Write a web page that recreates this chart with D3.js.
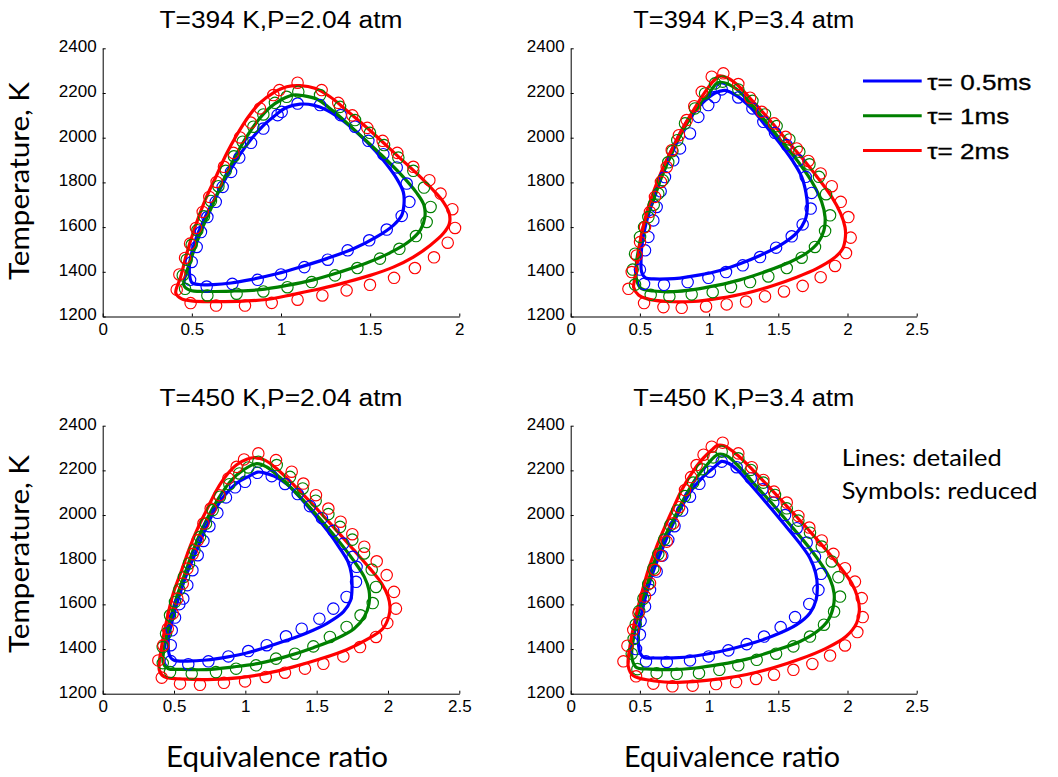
<!DOCTYPE html>
<html>
<head>
<meta charset="utf-8">
<script src="https://cdn.jsdelivr.net/npm/d3@7"></script>
<style>
  body { margin: 0; background: #fff; }
</style>
</head>
<body>
<script>
// ---- data (equivalence ratio, temperature K) ----
const titles = ["T=394 K,P=2.04 atm", "T=394 K,P=3.4 atm", "T=450 K,P=2.04 atm", "T=450 K,P=3.4 atm"];
const xMaxes = [2, 2.5, 2.5, 2.5];
const xTicksShort = [0, 0.5, 1, 1.5, 2];
const xTicksLong = [0, 0.5, 1, 1.5, 2, 2.5];
const yTicks = [1200, 1400, 1600, 1800, 2000, 2200, 2400];
const tauLabels = ["\u03c4= 0.5ms", "\u03c4= 1ms", "\u03c4= 2ms"];

// panel 1: T=394 K, P=2.04 atm
const p1BlueLine = [[0.5,1352],[0.54,1343],[0.62,1343],[0.72,1350],[0.83,1365],[0.976,1391],[1.107,1421],[1.256,1459],[1.406,1503],[1.536,1556],[1.63,1608],[1.677,1653],[1.69,1705],[1.686,1757],[1.649,1817],[1.574,1899],[1.48,1982],[1.368,2064],[1.256,2124],[1.181,2146],[1.107,2150],[1.03,2135],[0.96,2095],[0.895,2050],[0.8,1959],[0.715,1855],[0.645,1750],[0.575,1645],[0.52,1541],[0.49,1451],[0.487,1390]];
const p1GreenLine = [[0.455,1340],[0.49,1317],[0.583,1312],[0.733,1314],[0.882,1320],[1.032,1339],[1.181,1364],[1.331,1399],[1.48,1439],[1.611,1485],[1.714,1533],[1.783,1589],[1.807,1645],[1.802,1698],[1.761,1753],[1.667,1840],[1.555,1929],[1.424,2026],[1.293,2119],[1.2,2173],[1.125,2188],[1.069,2191],[1.004,2171],[0.938,2135],[0.873,2079],[0.807,2004],[0.742,1914],[0.677,1810],[0.611,1690],[0.546,1571],[0.499,1466],[0.462,1376]];
const p1RedLine = [[0.41,1305],[0.443,1279],[0.508,1269],[0.639,1267],[0.789,1269],[0.92,1276],[1.069,1299],[1.219,1324],[1.368,1354],[1.5,1384],[1.63,1421],[1.742,1466],[1.836,1518],[1.91,1571],[1.944,1615],[1.944,1660],[1.91,1713],[1.854,1765],[1.761,1840],[1.649,1922],[1.518,2019],[1.387,2109],[1.275,2183],[1.19,2221],[1.107,2233],[1.032,2228],[0.957,2201],[0.882,2156],[0.817,2094],[0.751,2011],[0.695,1929],[0.639,1832],[0.574,1720],[0.518,1600],[0.471,1481],[0.437,1376]];
const p1BlueSym = [[0.49,1364],[0.499,1444],[0.527,1511],[0.551,1578],[0.587,1645],[0.634,1713],[0.673,1780],[0.72,1847],[0.766,1911],[0.832,1977],[0.901,2041],[0.981,2101],[1.004,2116],[1.093,2153],[1.219,2146],[1.335,2101],[1.415,2049],[1.49,1986],[1.574,1926],[1.649,1867],[1.705,1795],[1.72,1713],[1.677,1650],[1.593,1589],[1.495,1541],[1.374,1496],[1.262,1454],[1.131,1421],[1.0,1388],[0.869,1364],[0.727,1346],[0.583,1334]];
const p1GreenSym = [[0.462,1324],[0.449,1384],[0.471,1454],[0.499,1521],[0.531,1586],[0.568,1648],[0.607,1717],[0.649,1783],[0.69,1852],[0.736,1917],[0.785,1982],[0.845,2049],[0.901,2104],[0.966,2156],[1.032,2183],[1.097,2206],[1.219,2191],[1.331,2138],[1.415,2079],[1.499,2022],[1.578,1967],[1.658,1911],[1.742,1852],[1.802,1777],[1.839,1690],[1.817,1623],[1.757,1560],[1.664,1503],[1.555,1459],[1.428,1417],[1.303,1384],[1.172,1354],[1.036,1331],[0.901,1312],[0.751,1302],[0.587,1294]];
const p1RedSym = [[0.415,1320],[0.493,1260],[0.636,1249],[0.798,1249],[0.948,1261],[1.093,1275],[1.232,1294],[1.368,1317],[1.499,1342],[1.634,1373],[1.751,1417],[1.858,1465],[1.935,1530],[1.976,1596],[1.961,1680],[1.895,1750],[1.832,1810],[1.742,1870],[1.652,1932],[1.57,1986],[1.484,2044],[1.4,2100],[1.321,2156],[1.228,2213],[1.093,2246],[0.991,2213],[0.957,2191],[0.882,2131],[0.83,2068],[0.77,2001],[0.733,1932],[0.68,1870],[0.639,1802],[0.598,1735],[0.561,1668],[0.523,1596],[0.49,1526],[0.462,1462],[0.43,1388]];

// panel 2: T=394 K, P=3.4 atm
const p2BlueLine = [[0.512,1400],[0.54,1373],[0.6,1368],[0.7,1368],[0.79,1372],[0.934,1386],[1.079,1406],[1.223,1436],[1.368,1473],[1.513,1518],[1.633,1574],[1.693,1630],[1.71,1690],[1.7,1753],[1.669,1825],[1.604,1896],[1.513,1974],[1.411,2052],[1.301,2134],[1.204,2186],[1.115,2212],[1.043,2200],[0.947,2153],[0.862,2094],[0.79,2019],[0.717,1929],[0.657,1840],[0.597,1720],[0.549,1630],[0.513,1511],[0.508,1450]];
const p2GreenLine = [[0.477,1361],[0.51,1325],[0.597,1314],[0.742,1311],[0.886,1320],[1.055,1339],[1.223,1364],[1.416,1403],[1.585,1444],[1.705,1484],[1.79,1533],[1.83,1586],[1.838,1645],[1.813,1713],[1.753,1792],[1.657,1881],[1.537,1974],[1.416,2067],[1.296,2156],[1.195,2219],[1.108,2246],[1.06,2245],[1.006,2205],[0.922,2138],[0.826,2049],[0.741,1944],[0.657,1824],[0.6,1725],[0.537,1630],[0.5,1530],[0.477,1451],[0.472,1400]];
const p2RedLine = [[0.455,1330],[0.49,1296],[0.549,1280],[0.694,1267],[0.886,1267],[1.079,1282],[1.272,1305],[1.464,1339],[1.633,1376],[1.777,1414],[1.898,1459],[1.965,1503],[1.985,1556],[1.982,1600],[1.951,1660],[1.886,1735],[1.79,1817],[1.681,1902],[1.561,1989],[1.428,2086],[1.296,2176],[1.199,2239],[1.13,2268],[1.07,2276],[1.019,2245],[0.947,2183],[0.874,2109],[0.802,2034],[0.741,1959],[0.681,1884],[0.621,1795],[0.561,1690],[0.513,1571],[0.477,1421],[0.46,1360]];
const p2BlueSym = [[1.091,2216],[1.211,2180],[1.313,2131],[1.392,2071],[1.476,2022],[1.561,1967],[1.645,1899],[1.698,1825],[1.741,1753],[1.734,1683],[1.676,1612],[1.597,1559],[1.484,1508],[1.368,1466],[1.243,1429],[1.122,1399],[0.995,1373],[0.845,1354],[0.674,1342],[0.53,1346],[0.5,1410],[0.537,1496],[0.561,1556],[0.597,1630],[0.621,1690],[0.65,1760],[0.681,1824],[0.741,1899],[0.79,1952],[0.862,2019],[0.922,2093],[0.994,2146],[1.04,2182]];
const p2GreenSym = [[1.098,2251],[1.211,2216],[1.313,2165],[1.404,2104],[1.488,2052],[1.58,1992],[1.652,1937],[1.725,1881],[1.794,1825],[1.845,1747],[1.874,1653],[1.838,1583],[1.765,1511],[1.669,1463],[1.561,1417],[1.428,1379],[1.296,1354],[1.158,1332],[1.026,1309],[0.874,1299],[0.713,1290],[0.578,1297],[0.465,1343],[0.448,1410],[0.465,1481],[0.501,1556],[0.53,1600],[0.561,1645],[0.6,1700],[0.633,1750],[0.665,1810],[0.705,1890],[0.735,1940],[0.77,1989],[0.826,2064],[0.898,2131],[0.971,2198],[1.043,2243]];
const p2RedSym = [[1.103,2288],[1.211,2240],[1.296,2179],[1.38,2116],[1.469,2064],[1.553,2004],[1.633,1952],[1.717,1896],[1.806,1840],[1.886,1783],[1.951,1713],[2.006,1645],[2.023,1553],[1.989,1484],[1.91,1426],[1.806,1376],[1.676,1337],[1.541,1312],[1.404,1290],[1.267,1267],[1.127,1254],[0.978,1245],[0.802,1239],[0.67,1242],[0.53,1260],[0.417,1324],[0.441,1399],[0.477,1473],[0.501,1533],[0.537,1600],[0.573,1668],[0.609,1735],[0.652,1802],[0.694,1869],[0.73,1944],[0.782,2011],[0.838,2079],[0.893,2141],[0.947,2205],[1.019,2273]];

// panel 3: T=450 K, P=2.04 atm
const p3BlueLine = [[0.472,1366],[0.5,1350],[0.589,1346],[0.729,1351],[0.869,1364],[1.009,1382],[1.15,1409],[1.29,1439],[1.43,1472],[1.57,1514],[1.687,1566],[1.738,1618],[1.748,1678],[1.743,1738],[1.72,1790],[1.664,1850],[1.582,1925],[1.488,2000],[1.383,2079],[1.29,2139],[1.201,2174],[1.126,2190],[1.085,2192],[1.021,2172],[0.939,2142],[0.857,2090],[0.787,2023],[0.717,1933],[0.659,1843],[0.6,1754],[0.542,1650],[0.495,1545],[0.46,1440]];
const p3GreenLine = [[0.425,1336],[0.46,1312],[0.542,1309],[0.729,1308],[0.916,1320],[1.103,1337],[1.29,1367],[1.477,1406],[1.64,1447],[1.762,1491],[1.834,1544],[1.867,1603],[1.867,1663],[1.834,1723],[1.757,1798],[1.64,1895],[1.5,2000],[1.36,2097],[1.243,2168],[1.15,2215],[1.08,2230],[0.986,2202],[0.904,2157],[0.834,2097],[0.764,2023],[0.694,1933],[0.635,1843],[0.577,1739],[0.519,1634],[0.472,1530],[0.437,1426]];
const p3RedLine = [[0.397,1306],[0.43,1276],[0.589,1265],[0.776,1264],[0.963,1272],[1.15,1291],[1.336,1320],[1.523,1355],[1.71,1397],[1.85,1442],[1.963,1491],[2.005,1544],[2.014,1589],[2.0,1636],[1.956,1693],[1.874,1760],[1.757,1846],[1.617,1947],[1.477,2044],[1.341,2134],[1.224,2205],[1.14,2245],[1.07,2257],[1.01,2250],[0.939,2225],[0.869,2179],[0.799,2112],[0.729,2023],[0.671,1948],[0.612,1858],[0.554,1754],[0.495,1650],[0.449,1530],[0.413,1410]];
const p3BlueSym = [[1.084,2189],[1.185,2174],[1.278,2139],[1.367,2094],[1.453,2040],[1.537,1986],[1.617,1929],[1.687,1872],[1.752,1813],[1.78,1768],[1.776,1701],[1.71,1633],[1.617,1581],[1.519,1536],[1.395,1491],[1.285,1457],[1.15,1417],[1.021,1391],[0.881,1367],[0.741,1345],[0.6,1332],[0.477,1346],[0.477,1417],[0.484,1484],[0.507,1541],[0.537,1601],[0.565,1626],[0.593,1686],[0.629,1753],[0.666,1820],[0.706,1884],[0.748,1950],[0.804,2010],[0.864,2079],[0.928,2124],[0.998,2149]];
const p3GreenSym = [[1.091,2239],[1.22,2224],[1.313,2171],[1.402,2119],[1.493,2064],[1.582,2004],[1.664,1947],[1.75,1890],[1.832,1828],[1.886,1756],[1.916,1678],[1.893,1606],[1.808,1551],[1.71,1499],[1.593,1454],[1.477,1412],[1.348,1379],[1.215,1357],[1.075,1327],[0.935,1312],[0.794,1297],[0.624,1290],[0.472,1297],[0.421,1337],[0.421,1409],[0.444,1469],[0.472,1551],[0.507,1611],[0.537,1666],[0.57,1723],[0.605,1783],[0.643,1843],[0.682,1902],[0.724,1962],[0.771,2022],[0.822,2082],[0.888,2138],[0.958,2186],[1.021,2213]];
const p3RedSym = [[1.091,2276],[1.215,2246],[1.325,2194],[1.407,2141],[1.495,2089],[1.582,2029],[1.668,1970],[1.75,1914],[1.834,1858],[1.921,1793],[1.991,1731],[2.042,1656],[2.056,1581],[1.995,1517],[1.916,1454],[1.804,1409],[1.687,1367],[1.547,1334],[1.418,1312],[1.278,1294],[1.143,1275],[0.998,1255],[0.85,1249],[0.682,1240],[0.542,1245],[0.414,1272],[0.39,1349],[0.425,1417],[0.456,1491],[0.491,1559],[0.523,1626],[0.561,1693],[0.593,1760],[0.631,1825],[0.666,1887],[0.706,1962],[0.757,2029],[0.818,2089],[0.881,2164],[0.939,2216],[0.991,2249]];

// panel 4: T=450 K, P=3.4 atm
const p4BlueLine = [[0.501,1382],[0.53,1362],[0.6,1360],[0.742,1360],[0.91,1370],[1.079,1389],[1.272,1419],[1.464,1459],[1.633,1509],[1.729,1561],[1.773,1620],[1.782,1680],[1.77,1740],[1.729,1807],[1.645,1881],[1.537,1963],[1.416,2053],[1.296,2139],[1.204,2202],[1.14,2232],[1.09,2240],[1.043,2217],[0.958,2172],[0.874,2112],[0.802,2038],[0.73,1948],[0.669,1859],[0.609,1769],[0.561,1680],[0.513,1561],[0.489,1471],[0.49,1420]];
const p4GreenLine = [[0.441,1367],[0.47,1320],[0.573,1310],[0.718,1308],[0.886,1314],[1.079,1331],[1.272,1355],[1.464,1391],[1.657,1434],[1.777,1477],[1.862,1531],[1.898,1591],[1.903,1650],[1.874,1713],[1.814,1777],[1.717,1859],[1.597,1948],[1.464,2045],[1.332,2135],[1.219,2214],[1.132,2264],[1.067,2272],[0.983,2224],[0.898,2157],[0.814,2068],[0.741,1978],[0.669,1889],[0.609,1799],[0.549,1680],[0.489,1561],[0.452,1442]];
const p4RedLine = [[0.416,1322],[0.45,1282],[0.573,1260],[0.718,1251],[0.886,1254],[1.079,1266],[1.272,1286],[1.464,1316],[1.657,1355],[1.845,1403],[1.989,1456],[2.066,1516],[2.086,1576],[2.071,1635],[2.03,1695],[1.958,1758],[1.862,1832],[1.741,1918],[1.609,2008],[1.464,2105],[1.32,2199],[1.204,2269],[1.108,2310],[1.06,2312],[1.019,2291],[0.947,2247],[0.874,2187],[0.802,2112],[0.741,2031],[0.681,1948],[0.621,1859],[0.561,1755],[0.513,1650],[0.465,1531],[0.428,1412]];
const p4BlueSym = [[1.091,2239],[1.199,2214],[1.301,2165],[1.385,2115],[1.464,2056],[1.549,2000],[1.633,1941],[1.705,1877],[1.765,1814],[1.809,1737],[1.79,1665],[1.724,1602],[1.621,1543],[1.517,1498],[1.397,1456],[1.272,1422],[1.139,1394],[0.997,1367],[0.862,1349],[0.694,1342],[0.544,1345],[0.472,1400],[0.5,1465],[0.505,1525],[0.537,1591],[0.573,1665],[0.621,1747],[0.662,1818],[0.705,1889],[0.75,1950],[0.805,2020],[0.862,2082],[0.93,2140],[1.006,2194]];
const p4GreenSym = [[1.091,2284],[1.211,2254],[1.301,2202],[1.392,2145],[1.476,2090],[1.561,2030],[1.645,1975],[1.729,1921],[1.814,1859],[1.886,1792],[1.934,1722],[1.946,1635],[1.903,1568],[1.83,1509],[1.729,1456],[1.609,1412],[1.484,1379],[1.344,1352],[1.211,1327],[1.074,1307],[0.927,1292],[0.766,1289],[0.621,1292],[0.482,1310],[0.441,1379],[0.455,1445],[0.47,1510],[0.495,1570],[0.525,1625],[0.56,1690],[0.597,1760],[0.633,1825],[0.675,1890],[0.72,1955],[0.77,2020],[0.825,2085],[0.885,2145],[0.95,2205],[1.03,2258]];
const p4RedSym = [[1.098,2324],[1.211,2276],[1.308,2214],[1.392,2157],[1.469,2105],[1.561,2056],[1.645,1996],[1.724,1944],[1.814,1886],[1.898,1826],[1.982,1762],[2.054,1702],[2.103,1628],[2.11,1543],[2.071,1476],[1.982,1416],[1.874,1371],[1.746,1333],[1.609,1307],[1.469,1285],[1.339,1266],[1.195,1252],[1.05,1243],[0.881,1236],[0.735,1233],[0.597,1245],[0.472,1278],[0.381,1345],[0.41,1415],[0.452,1486],[0.49,1560],[0.537,1635],[0.573,1695],[0.609,1755],[0.652,1818],[0.694,1881],[0.741,1963],[0.783,2035],[0.826,2112],[0.87,2170],[0.91,2224],[0.96,2270],[1.019,2306]];

// ---- layout ----
const WIDTH = 1058, HEIGHT = 777;
const colors = ["#0000ff", "#008000", "#ff0000"];
const arial = '"Liberation Sans", Arial, Helvetica, sans-serif';
const calibri = 'Lato, "Open Sans", sans-serif';

var frames = [
  {left: 102.7, right: 459.3, top: 48.3, bottom: 316.5, titleY: 28},
  {left: 570.7, right: 916.7, top: 48.3, bottom: 316.5, titleY: 28},
  {left: 102.7, right: 459.3, top: 425.7, bottom: 693.7, titleY: 406},
  {left: 570.7, right: 916.7, top: 425.7, bottom: 693.7, titleY: 406}
];
var lineSets = [
  [p1BlueLine, p1GreenLine, p1RedLine],
  [p2BlueLine, p2GreenLine, p2RedLine],
  [p3BlueLine, p3GreenLine, p3RedLine],
  [p4BlueLine, p4GreenLine, p4RedLine]
];
var symSets = [
  [p1BlueSym, p1GreenSym, p1RedSym],
  [p2BlueSym, p2GreenSym, p2RedSym],
  [p3BlueSym, p3GreenSym, p3RedSym],
  [p4BlueSym, p4GreenSym, p4RedSym]
];

var svg = d3.select('body').append('svg')
    .attr('width', WIDTH)
    .attr('height', HEIGHT)
    .attr('font-family', arial);

var drawPanel = function(i) {
  var f = frames[i];
  var x = d3.scaleLinear().domain([0, xMaxes[i]]).range([f.left, f.right]);
  var y = d3.scaleLinear().domain([1200, 2400]).range([f.bottom, f.top]);
  var g = svg.append('g');

  var yAxis = d3.axisLeft(y).tickValues(yTicks).tickFormat(d3.format('d'))
      .tickSize(-3).tickSizeOuter(0).tickPadding(6);
  var xAxis = d3.axisBottom(x).tickValues(xMaxes[i] == 2 ? xTicksShort : xTicksLong)
      .tickFormat(d3.format('')).tickSize(-3).tickSizeOuter(0).tickPadding(6);

  var ya = g.append('g').attr('transform', 'translate(' + f.left + ',0)').call(yAxis);
  var xa = g.append('g').attr('transform', 'translate(0,' + f.bottom + ')').call(xAxis);
  [ya, xa].forEach(function(a) {
    a.attr('font-family', arial).attr('font-size', 17);
    a.selectAll('path, line').attr('stroke', '#000').attr('stroke-width', 1);
    a.selectAll('text').attr('fill', '#000');
  });
  ya.selectAll('text').attr('dy', '0.2em');

  g.append('text')
      .attr('x', (f.left + f.right) / 2)
      .attr('y', f.titleY)
      .attr('text-anchor', 'middle')
      .attr('font-size', 23)
      .attr('textLength', i % 2 == 0 ? 243 : 221)
      .attr('lengthAdjust', 'spacingAndGlyphs')
      .text(titles[i]);

  var line = d3.line()
      .x(function(d) { return x(d[0]); })
      .y(function(d) { return y(d[1]); })
      .curve(d3.curveCatmullRomClosed.alpha(0.5));

  lineSets[i].forEach(function(data, k) {
    g.append('path')
        .attr('d', line(data))
        .attr('fill', 'none')
        .attr('stroke', colors[k])
        .attr('stroke-width', 3.2)
        .attr('stroke-linejoin', 'round');
  });

  symSets[i].forEach(function(data, k) {
    g.append('g').selectAll('circle').data(data)
        .enter()
        .append('circle')
        .attr('cx', function(d) { return x(d[0]); })
        .attr('cy', function(d) { return y(d[1]); })
        .attr('r', 5.7)
        .attr('fill', 'none')
        .attr('stroke', colors[k])
        .attr('stroke-width', 1.15);
  });
};

for (var i = 0; i < 4; i++) drawPanel(i);

// axis titles
[181, 554].forEach(function(cy) {
  svg.append('text')
      .attr('transform', 'translate(29,' + cy + ') rotate(-90)')
      .attr('text-anchor', 'middle')
      .attr('font-family', calibri)
      .attr('font-size', 26)
      .attr('textLength', 198)
      .attr('lengthAdjust', 'spacingAndGlyphs')
      .text('Temperature, K');
});
[[277, 222], [732, 216]].forEach(function(p) {
  svg.append('text')
      .attr('x', p[0])
      .attr('y', 766.5)
      .attr('text-anchor', 'middle')
      .attr('font-family', calibri)
      .attr('font-size', 28)
      .attr('textLength', p[1])
      .attr('lengthAdjust', 'spacingAndGlyphs')
      .text('Equivalence ratio');
});

// legend
var legend = svg.append('g');
tauLabels.forEach(function(t, k) {
  var ly = 81 + k * 34.8;
  legend.append('line')
      .attr('x1', 863).attr('x2', 921.7)
      .attr('y1', ly).attr('y2', ly)
      .attr('stroke', colors[k])
      .attr('stroke-width', 3);
  legend.append('text')
      .attr('x', 927.3)
      .attr('y', ly + 8.5)
      .attr('font-size', 22)
      .attr('stroke', '#000')
      .attr('stroke-width', 0.3)
      .attr('textLength', k == 0 ? 104 : 82)
      .attr('lengthAdjust', 'spacingAndGlyphs')
      .text(t);
});

// note
[['Lines: detailed', 466, 160], ['Symbols: reduced', 499.3, 195.7]].forEach(function(n) {
  svg.append('text')
      .attr('x', 841.7)
      .attr('y', n[1])
      .attr('font-family', calibri)
      .attr('font-size', 24)
      .attr('textLength', n[2])
      .attr('lengthAdjust', 'spacingAndGlyphs')
      .text(n[0]);
});
</script>
</body>
</html>
